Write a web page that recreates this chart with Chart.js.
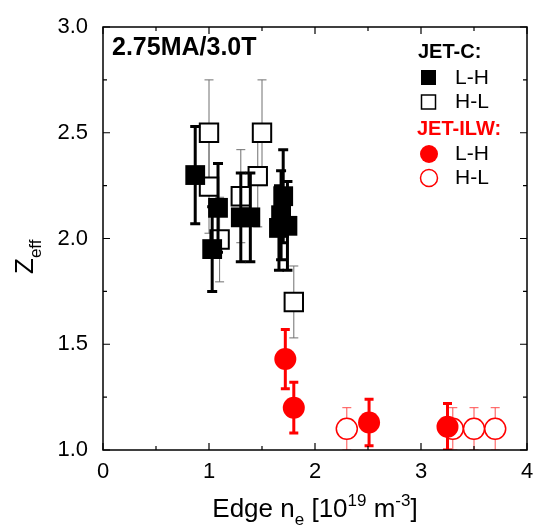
<!DOCTYPE html>
<html>
<head>
<meta charset="utf-8">
<script src="https://cdn.jsdelivr.net/npm/chart.js@4"></script>
<style>
  html, body { margin: 0; padding: 0; background: #fff; }
  #wrap { width: 535px; height: 527px; }
</style>
</head>
<body>
<div id="wrap"><canvas id="zeffChart" width="535" height="527"></canvas></div>
<script>
const FONT = "Arial, 'Liberation Sans', sans-serif";

// JET-C, L-H transitions (filled squares)
const jetcLhX = [0.87, 1.03, 1.085, 1.30, 1.39, 1.70, 1.68, 1.66, 1.74];
const jetcLhY = [2.30, 1.95, 2.145, 2.10, 2.10, 2.20, 2.11, 2.05, 2.06];
const jetcLhErr = [0.23, 0.20, 0.21, 0.21, 0.21, 0.22, 0.21, 0.20, 0.21];

// JET-C, H-L transitions (open squares)
const jetcHlX = [1.00, 1.00, 1.10, 1.30, 1.46, 1.50, 1.80];
const jetcHlY = [2.50, 2.245, 1.995, 2.20, 2.295, 2.50, 1.70];
const jetcHlErr = [0.25, 0.22, 0.20, 0.22, 0.24, 0.25, 0.17];

// JET-ILW, L-H transitions (filled circles)
const ilwLhX = [1.72, 1.80, 2.51, 3.25];
const ilwLhY = [1.43, 1.20, 1.13, 1.11];
const ilwLhErr = [0.14, 0.12, 0.11, 0.11];

// JET-ILW, H-L transitions (open circles)
const ilwHlX = [2.30, 3.30, 3.50, 3.70];
const ilwHlY = [1.10, 1.10, 1.10, 1.10];
const ilwHlErr = [0.10, 0.10, 0.10, 0.10];

const xTicks = [0, 1, 2, 3, 4];
const yTicks = [1.0, 1.5, 2.0, 2.5, 3.0];

const toPoints = (xs, ys) => xs.map((x, i) => ({ x, y: ys[i] }));

const errorBarPlugin = {
  id: 'errorBars',
  beforeDatasetDraw(chart, args) {
    const ds = chart.data.datasets[args.index];
    if (!ds.errors) {
      return;
    }
    const { ctx, chartArea, scales } = chart;
    ctx.save();
    ctx.beginPath();
    ctx.rect(chartArea.left, chartArea.top, chartArea.width, chartArea.height);
    ctx.clip();
    ctx.strokeStyle = ds.errorColor;
    ctx.lineWidth = ds.errorWidth;
    ds.data.forEach((pt, i) => {
      const px = scales.x.getPixelForValue(pt.x);
      const top = scales.y.getPixelForValue(pt.y + ds.errors[i]);
      const bottom = scales.y.getPixelForValue(pt.y - ds.errors[i]);
      const half = ds.capWidth / 2;
      ctx.beginPath();
      ctx.moveTo(px, top);
      ctx.lineTo(px, bottom);
      ctx.moveTo(px - half, top);
      ctx.lineTo(px + half, top);
      ctx.moveTo(px - half, bottom);
      ctx.lineTo(px + half, bottom);
      ctx.stroke();
    });
    ctx.restore();
  },
};

const framePlugin = {
  id: 'frame',
  afterDatasetsDraw(chart) {
    const { ctx, chartArea, scales } = chart;
    const { left, right, top, bottom } = chartArea;
    const major = 7;
    const minor = 4;
    ctx.save();
    ctx.strokeStyle = '#000';
    ctx.lineWidth = 1.5;
    ctx.strokeRect(left, top, right - left, bottom - top);
    ctx.lineWidth = 1.2;
    ctx.beginPath();
    const xMajor = xTicks.map((v) => scales.x.getPixelForValue(v));
    const xMinor = xTicks.slice(1).map((v, i) => scales.x.getPixelForValue((v + xTicks[i]) / 2));
    xMajor.forEach((px) => {
      ctx.moveTo(px, bottom); ctx.lineTo(px, bottom - major);
      ctx.moveTo(px, top); ctx.lineTo(px, top + major);
    });
    xMinor.forEach((px) => {
      ctx.moveTo(px, bottom); ctx.lineTo(px, bottom - minor);
      ctx.moveTo(px, top); ctx.lineTo(px, top + minor);
    });
    const yMajor = yTicks.map((v) => scales.y.getPixelForValue(v));
    const yMinor = yTicks.slice(1).map((v, i) => scales.y.getPixelForValue((v + yTicks[i]) / 2));
    yMajor.forEach((py) => {
      ctx.moveTo(left, py); ctx.lineTo(left + major, py);
      ctx.moveTo(right, py); ctx.lineTo(right - major, py);
    });
    yMinor.forEach((py) => {
      ctx.moveTo(left, py); ctx.lineTo(left + minor, py);
      ctx.moveTo(right, py); ctx.lineTo(right - minor, py);
    });
    ctx.stroke();
    ctx.restore();
  },
};

const labelsPlugin = {
  id: 'labels',
  afterDraw(chart) {
    const { ctx, chartArea } = chart;
    ctx.save();
    ctx.fillStyle = '#000';
    ctx.textBaseline = 'alphabetic';
    ctx.textAlign = 'left';

    // panel title
    ctx.font = `bold 25px ${FONT}`;
    ctx.fillText('2.75MA/3.0T', 112, 55);

    // legend
    ctx.textBaseline = 'middle';
    ctx.font = `bold 20px ${FONT}`;
    ctx.fillText('JET-C:', 418, 52);
    ctx.fillStyle = '#ff0000';
    ctx.fillText('JET-ILW:', 417, 129);
    ctx.fillStyle = '#000';
    ctx.font = `21px ${FONT}`;
    ctx.fillText('L-H', 455, 78);
    ctx.fillText('H-L', 455, 102);
    ctx.fillText('L-H', 455, 154);
    ctx.fillText('H-L', 455, 178);

    ctx.fillRect(421, 70, 15, 15);
    ctx.lineWidth = 1.5;
    ctx.strokeStyle = '#000';
    ctx.strokeRect(421.5, 95, 14, 14);
    ctx.fillStyle = '#ff0000';
    ctx.beginPath();
    ctx.arc(429, 154, 9, 0, Math.PI * 2);
    ctx.fill();
    ctx.strokeStyle = '#ff0000';
    ctx.beginPath();
    ctx.arc(429, 178, 8.5, 0, Math.PI * 2);
    ctx.stroke();

    // x axis title: Edge n_e [10^19 m^-3]
    ctx.fillStyle = '#000';
    ctx.textBaseline = 'alphabetic';
    const big = `26px ${FONT}`;
    const small = `17px ${FONT}`;
    const parts = [
      { t: 'Edge n', f: big, dy: 0 },
      { t: 'e', f: small, dy: 8 },
      { t: ' [10', f: big, dy: 0 },
      { t: '19', f: small, dy: -11 },
      { t: ' m', f: big, dy: 0 },
      { t: '-3', f: small, dy: -11 },
      { t: ']', f: big, dy: 0 },
    ];
    let total = 0;
    parts.forEach((p) => { ctx.font = p.f; p.w = ctx.measureText(p.t).width; total += p.w; });
    let cx = (chartArea.left + chartArea.right) / 2 - total / 2;
    const baseY = 517;
    parts.forEach((p) => {
      ctx.font = p.f;
      ctx.fillText(p.t, cx, baseY + p.dy);
      cx += p.w;
    });

    // y axis title: Z_eff
    ctx.translate(33, 274);
    ctx.rotate(-Math.PI / 2);
    ctx.font = big;
    ctx.fillText('Z', 0, 0);
    const zw = ctx.measureText('Z').width;
    ctx.font = small;
    ctx.fillText('eff', zw, 8);
    ctx.restore();
  },
};

const datasets = [
  {
    label: 'JET-C L-H',
    data: toPoints(jetcLhX, jetcLhY),
    errors: jetcLhErr,
    errorColor: '#000',
    errorWidth: 3,
    capWidth: 10,
    pointStyle: 'rect',
    pointRadius: 14,
    backgroundColor: '#000',
    borderColor: '#000',
    borderWidth: 0,
  },
  {
    label: 'JET-C H-L',
    data: toPoints(jetcHlX, jetcHlY),
    errors: jetcHlErr,
    errorColor: '#707070',
    errorWidth: 1,
    capWidth: 9,
    pointStyle: 'rect',
    pointRadius: 13,
    backgroundColor: '#fff',
    borderColor: '#000',
    borderWidth: 2,
  },
  {
    label: 'JET-ILW L-H',
    data: toPoints(ilwLhX, ilwLhY),
    errors: ilwLhErr,
    errorColor: '#ff0000',
    errorWidth: 3,
    capWidth: 9,
    pointStyle: 'circle',
    pointRadius: 11,
    backgroundColor: '#ff0000',
    borderColor: '#ff0000',
    borderWidth: 0,
  },
  {
    label: 'JET-ILW H-L',
    data: toPoints(ilwHlX, ilwHlY),
    errors: ilwHlErr,
    errorColor: '#ff4d4d',
    errorWidth: 1,
    capWidth: 9,
    pointStyle: 'circle',
    pointRadius: 10.5,
    backgroundColor: '#fff',
    borderColor: '#ff0000',
    borderWidth: 1.5,
  },
];

const canvas = document.getElementById('zeffChart');
new Chart(canvas.getContext('2d'), {
  type: 'scatter',
  data: { datasets },
  options: {
    responsive: false,
    animation: false,
    events: [],
    layout: {
      autoPadding: false,
      padding: { top: 27, right: 8, left: 0, bottom: 0 },
    },
    plugins: {
      legend: { display: false },
      tooltip: { enabled: false },
    },
    scales: {
      x: {
        type: 'linear',
        min: 0,
        max: 4,
        afterFit(scale) { scale.height = 77; },
        afterBuildTicks(scale) { scale.ticks = xTicks.map((value) => ({ value })); },
        // tick marks are drawn by the frame plugin; tickLength only spaces the labels
        grid: { display: false, drawTicks: true, tickLength: 9 },
        border: { display: false },
        ticks: {
          color: '#000',
          padding: 0,
          maxRotation: 0,
          autoSkip: false,
          font: { family: FONT, size: 22 },
          callback: (value) => String(value),
        },
      },
      y: {
        type: 'linear',
        min: 1,
        max: 3,
        afterFit(scale) { scale.width = 103; },
        afterBuildTicks(scale) { scale.ticks = yTicks.map((value) => ({ value })); },
        grid: { display: false, drawTicks: true, tickLength: 15 },
        border: { display: false },
        ticks: {
          color: '#000',
          padding: 0,
          autoSkip: false,
          font: { family: FONT, size: 22 },
          callback: (value) => Number(value).toFixed(1),
        },
      },
    },
  },
  plugins: [errorBarPlugin, framePlugin, labelsPlugin],
});
</script>
</body>
</html>
